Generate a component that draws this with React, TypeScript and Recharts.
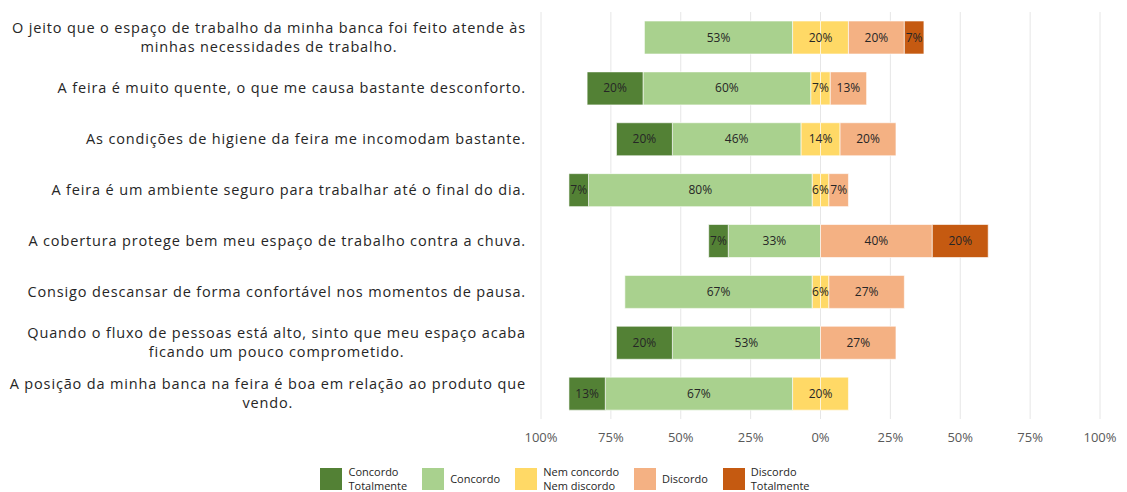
import React from 'react';
import { BarChart, Bar, XAxis, YAxis, CartesianGrid, Legend, LabelList } from 'recharts';

const CATEGORIES = [
  'O jeito que o espaço de trabalho da minha banca foi feito atende às\nminhas necessidades de trabalho.',
  'A feira é muito quente, o que me causa bastante desconforto.',
  'As condições de higiene da feira me incomodam bastante.',
  'A feira é um ambiente seguro para trabalhar até o final do dia.',
  'A cobertura protege bem meu espaço de trabalho contra a chuva.',
  'Consigo descansar de forma confortável nos momentos de pausa.',
  'Quando o fluxo de pessoas está alto, sinto que meu espaço acaba\nficando um pouco comprometido.',
  'A posição da minha banca na feira é boa em relação ao produto que\nvendo.',
];

const CONCORDO_TOTALMENTE = [0, 20, 20, 7, 7, 0, 20, 13];
const CONCORDO = [53, 60, 46, 80, 33, 67, 53, 67];
const NEUTRO = [20, 7, 14, 6, 0, 6, 0, 20];
const DISCORDO = [20, 13, 20, 7, 40, 27, 27, 0];
const DISCORDO_TOTALMENTE = [7, 0, 0, 0, 20, 0, 0, 0];

const X_TICKS = [-100, -75, -50, -25, 0, 25, 50, 75, 100];

const COLORS = {
  ct: '#538135',
  c: '#A9D18E',
  n: '#FFD966',
  d: '#F4B183',
  dt: '#C55A11',
};

const LEGEND_ITEMS = [
  { key: 'ct', label: ['Concordo', 'Totalmente'] },
  { key: 'c', label: ['Concordo'] },
  { key: 'n', label: ['Nem concordo', 'Nem discordo'] },
  { key: 'd', label: ['Discordo'] },
  { key: 'dt', label: ['Discordo', 'Totalmente'] },
];

const FONT = '"Open Sans", "Noto Sans", sans-serif';
const CAT_SIZE = 14.5;
const CAT_SPACING = 0.85;

const data = CATEGORIES.map((name, i) => ({
  name,
  nL: -NEUTRO[i] / 2,
  c: -CONCORDO[i],
  ct: -CONCORDO_TOTALMENTE[i],
  nR: NEUTRO[i] / 2,
  d: DISCORDO[i],
  dt: DISCORDO_TOTALMENTE[i],
  n: NEUTRO[i],
}));

let ctx: CanvasRenderingContext2D | null = null;
const measure = (t: string) => {
  if (!ctx) ctx = document.createElement('canvas').getContext('2d');
  if (!ctx) return t.length * 8;
  ctx.font = `${CAT_SIZE}px ${FONT}`;
  return ctx.measureText(t).width + t.length * CAT_SPACING;
};

const CategoryTick = (props: any) => {
  const { x, y, payload } = props;
  const lines: string[] = String(payload.value).split('\n');
  const maxW = Math.max(...lines.map(measure));
  const lh = 19;
  const top = y - ((lines.length - 1) * lh) / 2;
  return (
    <g>
      {lines.map((l, i) => (
        <text
          key={i}
          x={x - 7 - maxW / 2}
          y={top + i * lh}
          dy={5}
          textAnchor="middle"
          fill="#262626"
          fontSize={CAT_SIZE}
          letterSpacing={CAT_SPACING}
          fontFamily={FONT}
        >
          {l}
        </text>
      ))}
    </g>
  );
};

const segLabel = (props: any) => {
  const { x, y, width, height, value } = props;
  if (!value) return null;
  return (
    <text
      x={x + width / 2}
      y={y + height / 2}
      dy={4}
      textAnchor="middle"
      fill="#262626"
      fontSize={12}
      fontFamily={FONT}
    >
      {Math.abs(value)}%
    </text>
  );
};

// neutral label sits on the zero line, centred over both halves
const neutralLabel = (props: any) => {
  const { x, y, height, value } = props;
  if (!value) return null;
  return (
    <text x={x} y={y + height / 2} dy={4} textAnchor="middle" fill="#262626" fontSize={12} fontFamily={FONT}>
      {value}%
    </text>
  );
};

const LegendBox = () => (
  <div style={{ display: 'flex', justifyContent: 'center', alignItems: 'center', gap: 15, fontFamily: FONT, fontSize: 11, color: '#262626', lineHeight: '14px', paddingTop: 16, paddingLeft: 30 }}>
    {LEGEND_ITEMS.map((it) => (
      <div key={it.key} style={{ display: 'flex', alignItems: 'center', gap: 6 }}>
        <div style={{ width: 22, height: 22, background: (COLORS as any)[it.key] }} />
        <div>
          {it.label.map((l) => (
            <div key={l}>{l}</div>
          ))}
        </div>
      </div>
    ))}
  </div>
);

const barProps = { stackId: 's', isAnimationActive: false, stroke: '#ffffff', strokeOpacity: 0.6, strokeWidth: 1 };

export default function App() {
  return (
    <div style={{ position: 'absolute', left: 0, top: 0, background: '#fff' }}>
      <BarChart
        width={1127}
        height={492}
        data={data}
        layout="vertical"
        stackOffset="sign"
        barSize={33}
        margin={{ top: 12, right: 27, bottom: 0, left: 0 }}
      >
        <CartesianGrid horizontal={false} stroke="#e6e6e6" />
        <XAxis
          type="number"
          domain={[-100, 100]}
          ticks={X_TICKS}
          axisLine={false}
          tickLine={false}
          height={30}
          dy={6}
          tick={{ fill: '#595959', fontSize: 13, fontFamily: FONT }}
          tickFormatter={(v: number) => `${Math.abs(v)}%`}
        />
        <YAxis type="category" dataKey="name" width={541} axisLine={false} tickLine={false} tick={<CategoryTick />} interval={0} />
        <Legend verticalAlign="bottom" height={43} content={<LegendBox />} />
        <Bar dataKey="nL" fill={COLORS.n} {...barProps} />
        <Bar dataKey="c" fill={COLORS.c} {...barProps}>
          <LabelList dataKey="c" content={segLabel} />
        </Bar>
        <Bar dataKey="ct" fill={COLORS.ct} {...barProps}>
          <LabelList dataKey="ct" content={segLabel} />
        </Bar>
        <Bar dataKey="nR" fill={COLORS.n} {...barProps}>
          <LabelList dataKey="n" content={neutralLabel} />
        </Bar>
        <Bar dataKey="d" fill={COLORS.d} {...barProps}>
          <LabelList dataKey="d" content={segLabel} />
        </Bar>
        <Bar dataKey="dt" fill={COLORS.dt} {...barProps}>
          <LabelList dataKey="dt" content={segLabel} />
        </Bar>
      </BarChart>
    </div>
  );
}
